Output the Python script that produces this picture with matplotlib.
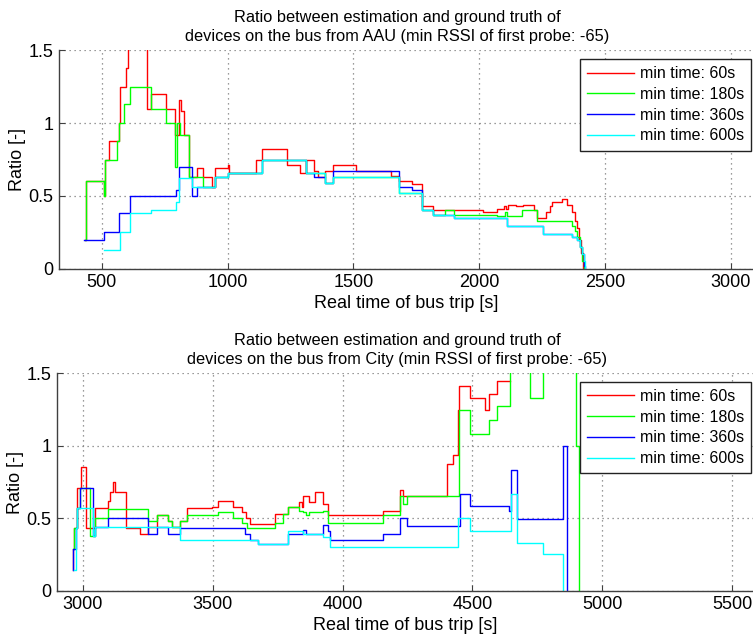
import matplotlib
matplotlib.use("Agg")
import matplotlib.pyplot as plt

plt.rcParams['font.family'] = ['Liberation Sans', 'DejaVu Sans']
plt.rcParams['font.size'] = 13

# ---- data: bus from AAU (step-wise ratio, change points) ----
aau_60_t = [433, 436, 509, 513, 530, 570, 573, 597, 606, 679, 696, 754, 791, 809, 815, 828, 847,
            878, 904, 937, 950, 1003, 1007, 1113, 1138, 1235, 1288, 1311, 1345, 1361, 1387, 1420,
            1510, 1649, 1681, 1734, 1771, 1815, 2013, 2072, 2099, 2107, 2113, 2145, 2172, 2216,
            2229, 2264, 2281, 2290, 2327, 2350, 2367, 2381, 2390, 2398, 2405, 2411]
aau_60_v = [0.20, 0.60, 0.50, 0.75, 0.88, 1.00, 1.25, 1.38, 1.60, 1.10, 1.20, 1.10, 0.92, 1.16, 1.08, 0.92, 0.63,
            0.69, 0.63, 0.56, 0.69, 0.71, 0.66, 0.75, 0.82, 0.71, 0.66, 0.75, 0.67, 0.63, 0.67, 0.71,
            0.67, 0.64, 0.60, 0.58, 0.43, 0.40, 0.39, 0.41, 0.43, 0.41, 0.44, 0.43, 0.44, 0.40,
            0.35, 0.39, 0.43, 0.46, 0.48, 0.44, 0.39, 0.33, 0.28, 0.20, 0.11, 0.0]

aau_180_t = [433, 436, 509, 513, 560, 570, 590, 612, 696, 754, 793, 798, 811, 847, 904, 950, 1003,
             1138, 1311, 1387, 1420, 1681, 1771, 1815, 1863, 1899, 2071, 2103, 2109, 2171, 2229,
             2367, 2381, 2390, 2401, 2408, 2415]
aau_180_v = [0.20, 0.60, 0.50, 0.75, 0.88, 1.00, 1.13, 1.25, 1.10, 1.00, 0.70, 1.00, 0.92, 0.63, 0.56, 0.63, 0.655,
             0.75, 0.66, 0.59, 0.63, 0.52, 0.40, 0.37, 0.40, 0.37, 0.36, 0.39, 0.36, 0.40, 0.33,
             0.29, 0.26, 0.22, 0.15, 0.05, 0.0]

aau_360_t = [430, 509, 570, 612, 795, 808, 858, 878, 950, 1003, 1138, 1311, 1345, 1387, 1420, 1681,
             1734, 1771, 1815, 1899, 2109, 2255, 2370, 2390, 2400, 2407, 2415, 2421]
aau_360_v = [0.20, 0.25, 0.38, 0.50, 0.54, 0.70, 0.50, 0.56, 0.63, 0.655, 0.75, 0.66, 0.63, 0.59, 0.67, 0.56,
             0.54, 0.40, 0.37, 0.35, 0.29, 0.24, 0.22, 0.20, 0.15, 0.10, 0.02, 0.0]

aau_600_t = [509, 573, 612, 696, 795, 808, 858, 950, 1003, 1138, 1311, 1387, 1420, 1681, 1771, 1815,
             1899, 2109, 2255, 2370, 2390, 2400, 2407, 2415, 2421]
aau_600_v = [0.13, 0.25, 0.385, 0.40, 0.46, 0.62, 0.56, 0.63, 0.655, 0.75, 0.66, 0.59, 0.63, 0.52, 0.40, 0.37,
             0.345, 0.29, 0.24, 0.22, 0.20, 0.15, 0.10, 0.05, 0.0]

# ---- data: bus from City ----
city_60_t = [2961, 2963, 2966, 2979, 2993, 3013, 3047, 3099, 3105, 3118, 3124, 3167, 3221, 3253, 3285,
             3327, 3342, 3375, 3403, 3499, 3522, 3580, 3612, 3629, 3644, 3740, 3791, 3834, 3843, 3849,
             3869, 3894, 3926, 3945, 4155, 4221, 4234, 4401, 4427, 4446, 4450, 4489, 4549, 4565, 4593, 4645]
city_60_v = [0.14, 0.29, 0.43, 0.71, 0.855, 0.43, 0.57, 0.62, 0.68, 0.75, 0.68, 0.43, 0.39, 0.44, 0.52,
             0.48, 0.44, 0.48, 0.57, 0.58, 0.62, 0.58, 0.54, 0.50, 0.46, 0.53, 0.58, 0.61, 0.58, 0.65,
             0.61, 0.68, 0.60, 0.52, 0.55, 0.695, 0.656, 0.874, 0.935, 1.246, 1.41, 1.331, 1.244, 1.358, 1.45, 1.45]

city_180_t = [2963, 2966, 2979, 2990, 3026, 3047, 3099, 3253, 3285, 3327, 3342, 3375, 3403, 3522, 3580,
              3612, 3631, 3740, 3770, 3791, 3834, 3849, 3860, 3869, 3926, 3945, 4155, 4221, 4234, 4247,
              4447, 4489, 4565, 4593, 4645, 4722, 4773, 4898, 4912]
city_180_v = [0.29, 0.43, 0.57, 0.71, 0.375, 0.50, 0.565, 0.48, 0.52, 0.48, 0.44, 0.48, 0.52, 0.54, 0.50,
              0.47, 0.43, 0.47, 0.53, 0.58, 0.55, 0.54, 0.52, 0.54, 0.55, 0.47, 0.52, 0.65, 0.60, 0.65,
              1.245, 1.084, 1.175, 1.274, 1.70, 1.331, 1.70, 1.00, 0.0]

city_360_t = [2961, 2963, 2974, 2979, 2990, 3038, 3047, 3099, 3253, 3285, 3327, 3375, 3625, 3644, 3676,
              3791, 3849, 3860, 3926, 3945, 3952, 4155, 4221, 4250, 4453, 4489, 4642, 4647, 4673, 4850, 4863]
city_360_v = [0.14, 0.29, 0.43, 0.57, 0.71, 0.375, 0.44, 0.50, 0.39, 0.44, 0.39, 0.43, 0.39, 0.35, 0.32,
              0.39, 0.42, 0.39, 0.45, 0.41, 0.35, 0.39, 0.50, 0.446, 0.668, 0.583, 0.55, 0.833, 0.496, 1.0, 0.0]

city_600_t = [2966, 2974, 2979, 3038, 3047, 3375, 3676, 3791, 3849, 3926, 3952, 4446, 4490, 4647, 4673,
              4773, 4850]
city_600_v = [0.14, 0.43, 0.57, 0.375, 0.44, 0.35, 0.32, 0.41, 0.39, 0.37, 0.30, 0.50, 0.41, 0.67, 0.33,
              0.25, 0.0]

labels = ['min time: 60s', 'min time: 180s', 'min time: 360s', 'min time: 600s']
colors = ['#ff0000', '#00ff00', '#0000ff', '#00ffff']

W, H = 753, 636
fig = plt.figure(figsize=(W / 100, H / 100), dpi=100)


def axes_px(left, top, right, bottom):
    return fig.add_axes([left / W, 1 - bottom / H, (right - left) / W, (bottom - top) / H])


def style(ax, xlim, xticks, xlabel, title, title_x):
    ax.set_xlim(*xlim)
    ax.set_ylim(0, 1.5)
    ax.set_xticks(xticks)
    ax.set_yticks([0, 0.5, 1, 1.5])
    ax.set_yticklabels(['0', '0.5', '1', '1.5'])
    ax.grid(True, linestyle=(0, (1, 3)), color='#7a7a7a', linewidth=0.9)
    for s in ('top', 'right'):
        ax.spines[s].set_visible(False)
    for s in ('left', 'bottom'):
        ax.spines[s].set_color('#404040')
        ax.spines[s].set_linewidth(1.0)
    ax.tick_params(direction='in', length=4, width=0.8, color='#404040', pad=4,
                   top=False, right=False, labelsize=13)
    ax.set_xlabel(xlabel, fontsize=13, labelpad=3)
    ax.set_ylabel('Ratio [-]', fontsize=13, labelpad=2)
    ax.set_title(title, fontsize=11.8, pad=7, linespacing=1.3, x=title_x)


series_top = [(aau_60_t, aau_60_v), (aau_180_t, aau_180_v), (aau_360_t, aau_360_v), (aau_600_t, aau_600_v)]
series_bot = [(city_60_t, city_60_v), (city_180_t, city_180_v), (city_360_t, city_360_v), (city_600_t, city_600_v)]

ax1 = axes_px(59, 50.3, 753, 268.7)
for (t, v), c, lab in zip(series_top, colors, labels):
    ax1.plot(t, v, drawstyle='steps-post', color=c, lw=1.0, label=lab)
style(ax1, (330.4, 3087.6), [500, 1000, 1500, 2000, 2500, 3000], 'Real time of bus trip [s]',
      'Ratio between estimation and ground truth of\ndevices on the bus from AAU (min RSSI of first probe: -65)',
      (397 - 59) / (753 - 59))

ax2 = axes_px(57.3, 373.3, 753, 590.7)
for (t, v), c, lab in zip(series_bot, colors, labels):
    ax2.plot(t, v, drawstyle='steps-post', color=c, lw=1.0, label=lab)
style(ax2, (2902, 5580), [3000, 3500, 4000, 4500, 5000, 5500], 'Real time of bus trip [s]',
      'Ratio between estimation and ground truth of\ndevices on the bus from City (min RSSI of first probe: -65)',
      (397 - 57.3) / (753 - 57.3))

for ax, top in ((ax1, 59), (ax2, 381.7)):
    leg = ax.legend(loc='upper left', bbox_to_anchor=(580 / W, 1 - top / H),
                    bbox_transform=fig.transFigure, fontsize=11.5, frameon=True, fancybox=False,
                    borderaxespad=0, handlelength=2.9, handletextpad=0.4, labelspacing=0.36,
                    borderpad=0.45)
    fr = leg.get_frame()
    fr.set_edgecolor('#222222')
    fr.set_linewidth(1.0)
    fr.set_alpha(1)

fig.savefig('out.png', dpi=100)
